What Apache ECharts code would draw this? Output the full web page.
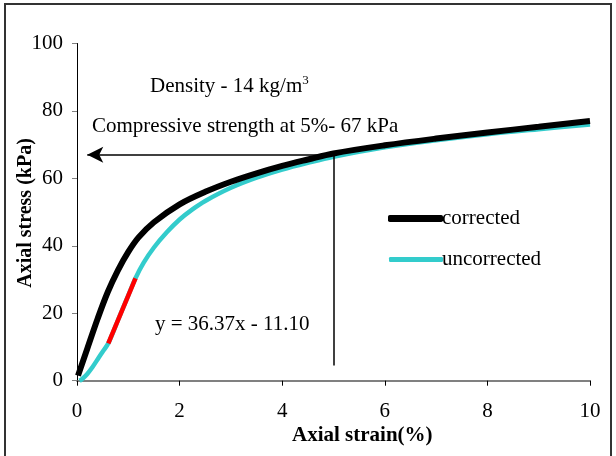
<!DOCTYPE html>
<html><head><meta charset="utf-8">
<script src="https://cdn.jsdelivr.net/npm/echarts@6/dist/echarts.min.js"></script>
<style>html,body{margin:0;padding:0;background:#fff}#c{width:616px;height:456px}</style>
</head><body><div id="c"></div>
<script>
const strainCorrected = [0.02,0.2,0.4,0.6,0.8,1.0,1.2,1.5,2.0,2.5,3.0,3.5,4.0,4.5,5.0,6.0,7.0,8.0,9.0,10.0];
const stressCorrected = [1.5,9.5,18.3,26.3,32.8,38.2,42.5,47,52.3,56,59,61.5,63.7,65.6,67.4,69.8,71.8,73.6,75.3,77];
const strainUncorrected = [0.05,0.1,0.2,0.3,0.4,0.5,0.61,0.8,1.0,1.14,1.3,1.5,1.75,2.0,2.25,2.5,3.0,3.5,4.0,4.5,5.0,6.0,7.0,8.0,9.0,10.0];
const stressUncorrected = [0,0.5,2,4,6.3,8.6,11.1,18,25.3,30.4,35,39.5,44,47.8,50.8,53.3,57.2,60.2,62.6,64.6,66.4,69.2,71.3,73.1,74.6,76];
const fitStrain = [0.61,1.14];
const fitSlope = 36.37, fitIntercept = -11.10;
const xTicks = [0,2,4,6,8,10];
const yTicks = [0,20,40,60,80,100];
const refStrain = 5, refStress = 67, arrowEndStrain = 0.2, vlineBottom = 4.5;

const zip = (a,b)=>a.map((v,i)=>[v,b[i]]);
const fitData = fitStrain.map(x=>[x, fitSlope*x+fitIntercept]);
const F = 'Liberation Serif, Times New Roman, serif';

const chart = echarts.init(document.getElementById('c'), null, {renderer:'canvas'});
chart.setOption({
  animation:false,
  grid:{left:77,right:26,top:43.5,bottom:75.3,containLabel:false,outerBoundsMode:'none'},
  xAxis:{type:'value',min:xTicks[0],max:xTicks[xTicks.length-1],interval:2,
    axisLine:{lineStyle:{color:'#808080',width:2}},
    axisTick:{inside:false,length:5,lineStyle:{color:'#000'}},
    splitLine:{show:false},
    axisLabel:{color:'#000',fontFamily:F,fontSize:21,margin:20}},
  yAxis:{type:'value',min:yTicks[0],max:yTicks[yTicks.length-1],interval:20,
    axisLine:{show:true,lineStyle:{color:'#000',width:1}},
    axisTick:{show:true,inside:false,length:5,lineStyle:{color:'#808080'}},
    splitLine:{show:false},
    axisLabel:{color:'#000',fontFamily:F,fontSize:21,margin:14}},
  legend:[
    {data:[{name:'corrected',itemStyle:{color:'#000'}}],left:383,top:203,itemWidth:55,itemHeight:7,icon:'roundRect',
     textStyle:{fontFamily:F,fontSize:21,color:'#000',padding:[0,0,0,-6]}},
    {data:[{name:'uncorrected',itemStyle:{color:'#33CCCC'}}],left:384,top:244,itemWidth:54,itemHeight:5,icon:'roundRect',
     textStyle:{fontFamily:F,fontSize:21,color:'#000',padding:[0,0,0,-6]}}
  ],
  series:[
    {name:'uncorrected',type:'line',data:zip(strainUncorrected,stressUncorrected),smooth:0.35,showSymbol:false,
     lineStyle:{color:'#33CCCC',width:4.5},itemStyle:{color:'#33CCCC'},z:2},
    {name:'corrected',type:'line',data:zip(strainCorrected,stressCorrected),smooth:0.35,showSymbol:false,
     lineStyle:{color:'#000',width:6},itemStyle:{color:'#000'},z:3,
     markLine:{silent:true,symbol:['none','none'],label:{show:false},
       data:[
         [{coord:[refStrain,refStress],symbol:'none'},{coord:[arrowEndStrain,refStress],symbol:'arrow',symbolSize:[12,16]}],
         [{coord:[refStrain,refStress],symbol:'none'},{coord:[refStrain,vlineBottom],symbol:'none'}]
       ],
       lineStyle:{color:'#000',width:1.5,type:'solid'}}},
    {name:'fit',type:'line',data:fitData,showSymbol:false,lineStyle:{color:'#FF0000',width:4.5},z:4}
  ],
  graphic:[
    {type:'rect',shape:{x:5,y:4,width:606,height:470},style:{fill:'none',stroke:'#333',lineWidth:2},silent:true},
    {type:'text',x:26,y:213,rotation:Math.PI/2,style:{text:'Axial stress (kPa)',fontFamily:F,fontSize:20,fontWeight:'bold',fill:'#000',align:'center',verticalAlign:'middle'}},
    {type:'text',left:150,top:74,style:{text:'Density - 14 kg/m{sup|3}',fontFamily:F,fontSize:21,fill:'#000',
      rich:{sup:{fontSize:13,fontFamily:F,verticalAlign:'top',padding:[0,0,12,0]}}}},
    {type:'text',left:92,top:116,style:{text:'Compressive strength at 5%- 67 kPa',fontFamily:F,fontSize:21,fill:'#000'}},
    {type:'text',left:155,top:314,style:{text:'y = 36.37x - 11.10',fontFamily:F,fontSize:21,fill:'#000'}},
    {type:'text',left:292,top:425,style:{text:'Axial strain(%)',fontFamily:F,fontSize:21,fontWeight:'bold',fill:'#000'}}
  ]
});
</script></body></html>
